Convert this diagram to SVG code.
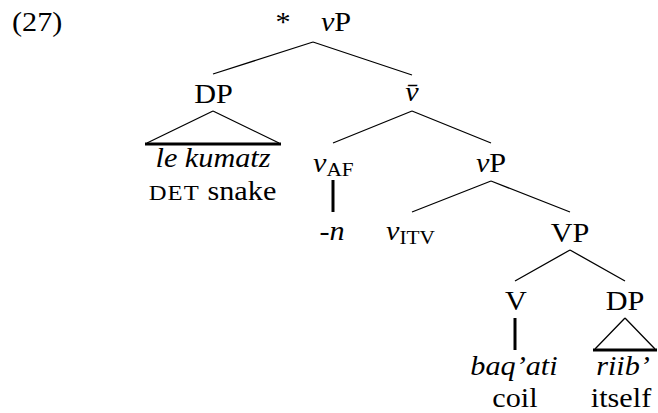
<svg xmlns="http://www.w3.org/2000/svg" width="658" height="413" viewBox="0 0 658 413">
<style>
text{font-family:'Liberation Serif','Times New Roman','DejaVu Serif',serif;font-size:27px;fill:#000}
.it{font-style:italic}
.sub{font-size:19px}
.sc{font-size:22px;letter-spacing:1px}
.e{stroke:#000;stroke-width:1.3;fill:none}
.t{stroke:#000;stroke-width:3;fill:none}
</style>
<rect width="658" height="413" fill="#fff"/>
<text id="exnum" transform="translate(12,31) scale(1.12,1)">(27)</text>
<g id="connectors">
<path class="e" d="M313,42 L213,74 M313,42 L412,75"/>
<path class="e" d="M213,111 L147,143 M213,111 L279,143"/>
<path class="t" d="M145,144 L281,144"/>
<path class="e" d="M412,111 L333,143 M412,111 L491,143"/>
<path class="t" d="M333,180 L333,212"/>
<path class="e" d="M491,181 L412,212 M491,181 L570,212"/>
<path class="e" d="M570,250 L515,281 M570,250 L625,281"/>
<path class="t" d="M515,318 L515,350"/>
<path class="e" d="M625,318 L595,349 M625,318 L655,349"/>
<path class="t" d="M593,350 L657,350"/>
</g>
<g id="n-root"><text transform="translate(283,31) scale(1.12,1)" text-anchor="middle">*</text><text transform="translate(336,31) scale(1.12,1)" text-anchor="middle"><tspan class="it">v</tspan>P</text></g>
<g id="n-dp1"><text transform="translate(213.5,103) scale(1.12,1)" text-anchor="middle">DP</text></g>
<g id="n-dp1-leaf"><text class="it" transform="translate(213,167) scale(1.12,1)" text-anchor="middle">le kumatz</text><text transform="translate(212.5,200) scale(1.12,1)" text-anchor="middle"><tspan class="sc">DET</tspan> snake</text></g>
<g id="n-vbar"><text class="it" transform="translate(412,101) scale(1.12,1)" text-anchor="middle">v̄</text></g>
<g id="n-vaf"><text transform="translate(313,172) scale(1.12,1)"><tspan class="it">v</tspan><tspan class="sub" dy="4">AF</tspan></text></g>
<g id="n-n"><text class="it" transform="translate(332,240) scale(1.12,1)" text-anchor="middle">-n</text></g>
<g id="n-vp2"><text transform="translate(491,172) scale(1.12,1)" text-anchor="middle"><tspan class="it">v</tspan>P</text></g>
<g id="n-vitv"><text transform="translate(386,240) scale(1.12,1)"><tspan class="it">v</tspan><tspan class="sub" dy="4">ITV</tspan></text></g>
<g id="n-VP"><text transform="translate(570,242) scale(1.12,1)" text-anchor="middle">VP</text></g>
<g id="n-V"><text transform="translate(516,310) scale(1.12,1)" text-anchor="middle">V</text></g>
<g id="n-dp2"><text transform="translate(625,310) scale(1.12,1)" text-anchor="middle">DP</text></g>
<g id="n-V-leaf"><text class="it" transform="translate(514,375) scale(1.12,1)" text-anchor="middle">baq’ati</text><text transform="translate(515,407) scale(1.12,1)" text-anchor="middle">coil</text></g>
<g id="n-dp2-leaf"><text class="it" transform="translate(623,375) scale(1.12,1)" text-anchor="middle">riib’</text><text transform="translate(621,407) scale(1.12,1)" text-anchor="middle">itself</text></g>
</svg>
